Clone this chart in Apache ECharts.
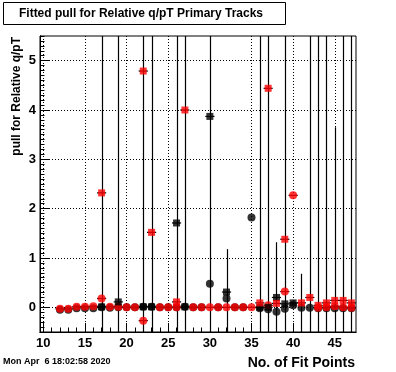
<!DOCTYPE html>
<html><head><meta charset="utf-8">
<script src="https://cdn.jsdelivr.net/npm/echarts@6/dist/echarts.min.js"></script>
<style>html,body{margin:0;padding:0;background:#fff}#c{width:396px;height:372px}</style>
</head><body><div id="c"></div>
<script>
// ---- data ----
const fitPoints   = [12,13,14,15,16,17,18,19,20,21,22,23,24,25,26,27,28,29,30,31,32,33,34,35,36,37,38,39,40,41,42,43,44,45,46,47];
const blackCircle = [-0.05,-0.05,-0.02,-0.02,-0.02,0.0,-0.01,0.0,0.0,0.0,0.01,0.01,0.0,0.0,0.0,0.01,0.0,0.0,0.48,0.0,0.18,0.0,0.0,1.82,-0.02,-0.04,-0.09,-0.03,0.04,-0.01,-0.01,-0.02,-0.02,-0.02,-0.02,-0.02];
const blackSquare = [null,null,null,null,null,0.01,null,0.11,null,null,0.01,0.01,null,null,1.71,0.01,null,null,3.87,null,0.31,null,null,null,0.0,0.0,0.2,0.07,0.09,null,null,null,null,null,null,null];
const redCircle   = [-0.03,-0.03,0.01,0.01,0.02,0.18,0.01,0.01,0.0,0.0,-0.27,null,0.0,0.0,0.0,null,0.0,0.0,0.0,0.0,0.0,0.0,0.0,0.0,null,0.04,null,0.32,2.27,null,null,-0.01,0.0,0.02,0.0,-0.01];
const redSquare   = [null,null,null,null,null,2.32,null,null,null,null,4.79,1.52,null,null,0.11,4.0,null,null,null,null,null,null,null,null,0.09,4.44,0.08,1.38,null,0.09,0.2,0.04,0.09,0.14,0.14,0.09];
// vertical error bars (most run past the frame)
const errX    = [17,19,22,23,26,27,30,32,36,37,38,39,41,42,43,44,45,46,47];
const errLow  = [-1,-1,-1,-1,-1,-1,-1,-1,-1,-1,-1,-1,-1,-1,-1,-1,-1,-1,-1];
const errHigh = [6,6,6,6,6,6,6,1.18,6,6,1.32,6,0.68,6,6,6,3.65,6,6];
const xErr = 0.55;
// ticks / labels
const xMajorTicks = [10,15,20,25,30,35,40,45];
const yMajorTicks = [0,1,2,3,4,5];
const xRange = [9.6, 47.55];
const yRange = [-0.5, 5.5];
const titleText = 'Fitted pull for Relative q/pT Primary Tracks';
const xTitle = 'No. of Fit Points';
const yTitle = 'pull for Relative q/pT';
const stamp = 'Mon Apr  6 18:02:58 2020';

const xMinor = []; for (let v = 10; v <= 47; v++) xMinor.push(v);
const yMinor = []; for (let k = -5; k <= 55; k++) yMinor.push(+(k / 10).toFixed(1));

const FONT = 'Liberation Sans';
const pairs = arr => fitPoints.map((x, i) => [x, arr[i]]).filter(p => p[1] !== null);

const G = {left: 40, top: 36, width: 316, height: 296};

function clampY(y, r) { return Math.max(r.y, Math.min(r.y + r.height, y)); }

const errData = errX.map((x, i) => [x, errLow[i], errHigh[i]]);
const dashData = [].concat(pairs(blackSquare), pairs(redCircle), pairs(redSquare));

const chart = echarts.init(document.getElementById('c'), null, {renderer: 'canvas'});
chart.setOption({
  animation: false,
  backgroundColor: '#fff',
  grid: [
    Object.assign({show: true, borderColor: '#000', borderWidth: 1, backgroundColor: 'transparent'}, G),
    Object.assign({show: false}, G)
  ],
  xAxis: [
    {gridIndex: 0, type: 'value', min: xRange[0], max: xRange[1], splitNumber: 8,
     axisLine: {show: true, onZero: false, lineStyle: {color: '#000', width: 1}},
     axisTick: {show: true, inside: true, length: 9, customValues: xMajorTicks, lineStyle: {color: '#000', width: 1}},
     axisLabel: {show: true, customValues: xMajorTicks, color: '#000', fontFamily: FONT, fontWeight: 'bold', fontSize: 13, margin: 5},
     splitLine: {show: true, lineStyle: {color: '#000', width: 1, type: [1, 2]}}},
    {gridIndex: 1, type: 'value', min: xRange[0], max: xRange[1], position: 'bottom',
     axisLine: {show: true, onZero: false, lineStyle: {color: '#000', width: 1}}, axisLabel: {show: false}, splitLine: {show: false},
     axisTick: {show: true, inside: true, length: 4.5, customValues: xMinor, lineStyle: {color: '#000', width: 1}}}
  ],
  yAxis: [
    {gridIndex: 0, type: 'value', min: yRange[0], max: yRange[1], splitNumber: 6,
     axisLine: {show: true, onZero: false, lineStyle: {color: '#000', width: 1}},
     axisTick: {show: true, inside: true, length: 9, customValues: yMajorTicks, lineStyle: {color: '#000', width: 1}},
     axisLabel: {show: true, customValues: yMajorTicks, color: '#000', fontFamily: FONT, fontWeight: 'bold', fontSize: 13, margin: 4},
     splitLine: {show: true, lineStyle: {color: '#000', width: 1, type: [1, 2]}}},
    {gridIndex: 1, type: 'value', min: yRange[0], max: yRange[1], position: 'left',
     axisLine: {show: true, onZero: false, lineStyle: {color: '#000', width: 1}}, axisLabel: {show: false}, splitLine: {show: false},
     axisTick: {show: true, inside: true, length: 4.5, customValues: yMinor, lineStyle: {color: '#000', width: 1}}}
  ],
  series: [
    {type: 'scatter', xAxisIndex: 1, yAxisIndex: 1, silent: true, data: [], symbolSize: 0},
    {type: 'custom', xAxisIndex: 0, yAxisIndex: 0, z: 1, silent: true, data: errData,
     renderItem: function (params, api) {
       const r = params.coordSys;
       const a = api.coord([api.value(0), api.value(1)]);
       const b = api.coord([api.value(0), api.value(2)]);
       const x = Math.round(a[0]) + 0.5;
       return {type: 'line', shape: {x1: x, y1: clampY(a[1], r), x2: x, y2: clampY(b[1], r)},
               style: {stroke: '#000', lineWidth: 1.2}};
     }},
    {type: 'custom', xAxisIndex: 0, yAxisIndex: 0, z: 1, silent: true, data: dashData,
     renderItem: function (params, api) {
       const a = api.coord([api.value(0) - xErr, api.value(1)]);
       const b = api.coord([api.value(0) + xErr, api.value(1)]);
       return {type: 'line', shape: {x1: a[0], y1: a[1], x2: b[0], y2: b[1]},
               style: {stroke: '#000', lineWidth: 1.2}};
     }},
    {type: 'scatter', name: 'black circle', z: 2, silent: true, symbol: 'circle', symbolSize: 8,
     itemStyle: {color: '#000'}, data: pairs(blackCircle)},
    {type: 'scatter', name: 'red circle', z: 3, silent: true, symbol: 'circle', symbolSize: 8,
     itemStyle: {color: '#ff0000'}, data: pairs(redCircle)},
    {type: 'scatter', name: 'black square', z: 4, silent: true, symbol: 'rect', symbolSize: 7,
     itemStyle: {color: '#000'}, data: pairs(blackSquare)},
    {type: 'scatter', name: 'red square', z: 5, silent: true, symbol: 'rect', symbolSize: 7,
     itemStyle: {color: '#ff0000'}, data: pairs(redSquare)}
  ],
  graphic: [
    {type: 'rect', shape: {x: 3.5, y: 2.5, width: 282, height: 22}, style: {fill: '#fff', stroke: '#000', lineWidth: 1}},
    {type: 'text', x: 141, y: 14, style: {text: titleText, fill: '#000', font: 'bold 12px "Liberation Sans"', align: 'center', verticalAlign: 'middle'}},
    {type: 'text', x: 355, y: 363, style: {text: xTitle, fill: '#000', font: 'bold 14px "Liberation Sans"', align: 'right', verticalAlign: 'middle'}},
    {type: 'text', x: 17, y: 37, rotation: Math.PI / 2, style: {text: yTitle, fill: '#000', font: 'bold 12px "Liberation Sans"', align: 'right', verticalAlign: 'middle'}},
    {type: 'text', x: 3, y: 362, style: {text: stamp, fill: '#000', font: 'bold 9px "Liberation Sans"', align: 'left', verticalAlign: 'middle'}}
  ]
});
</script>
</body></html>
